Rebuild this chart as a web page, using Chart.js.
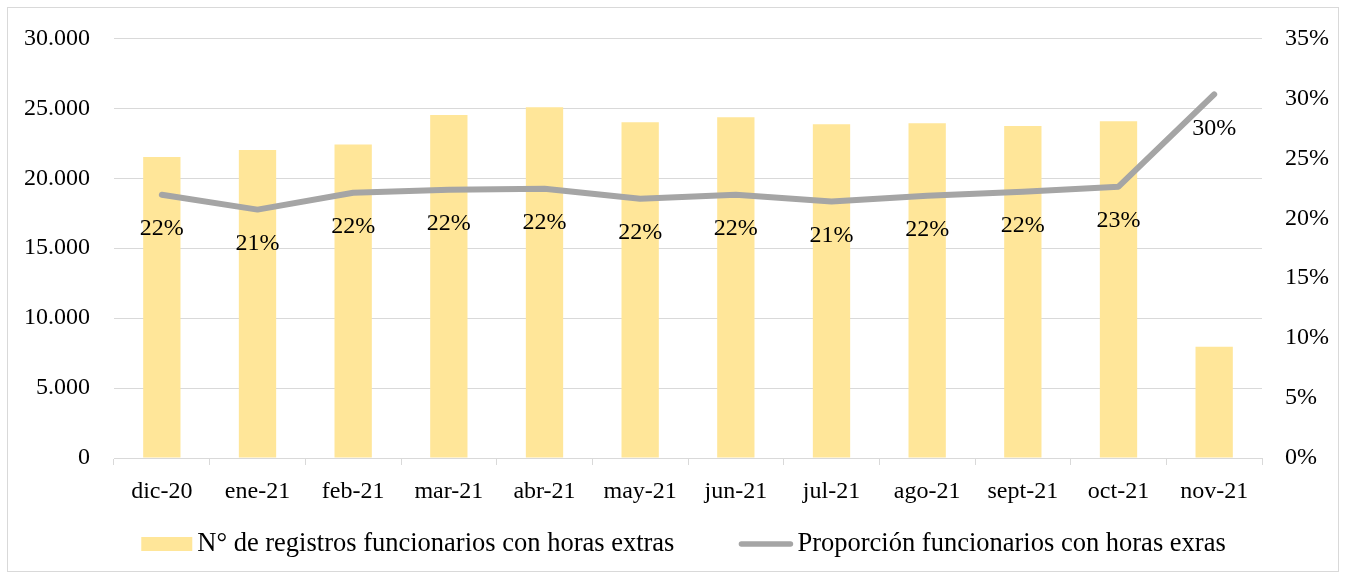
<!DOCTYPE html>
<html lang="es">
<head>
<meta charset="utf-8">
<title>Funcionarios con horas extras</title>
<script src="https://cdn.jsdelivr.net/npm/chart.js@4/dist/chart.umd.min.js"></script>
<style>
    html, body { margin: 0; padding: 0; background: #fff; }
    #contenedor { width: 1346px; height: 577px; }
</style>
</head>
<body>
<div id="contenedor"><canvas id="graficoHorasExtras" width="1346" height="577"></canvas></div>
<script>
// Datos
const meses = ['dic-20', 'ene-21', 'feb-21', 'mar-21', 'abr-21', 'may-21', 'jun-21', 'jul-21', 'ago-21', 'sept-21', 'oct-21', 'nov-21'];
const registros = [21520, 22020, 22420, 24520, 25070, 24010, 24360, 23860, 23940, 23740, 24080, 7960];
const proporcion = [21.96, 20.72, 22.13, 22.38, 22.46, 21.63, 21.96, 21.4, 21.88, 22.21, 22.63, 30.33];

const etiquetaBarras = 'N° de registros funcionarios con horas extras';
const etiquetaLinea = 'Proporción funcionarios con horas exras';

const colorBarras = '#FFE699';
const colorLinea = '#A5A5A5';
const colorGrilla = '#D9D9D9';
const fuente = '"Liberation Serif", "Times New Roman", serif';

// Formato de miles con punto (30.000)
function miles(v) {
    return String(v).replace(/\B(?=(\d{3})+(?!\d))/g, '.');
}

// Fondo blanco y marco gris alrededor del gráfico
const marco = {
    id: 'marco',
    beforeDraw(chart) {
        const ctx = chart.ctx;
        ctx.save();
        ctx.fillStyle = '#fff';
        ctx.fillRect(0, 0, chart.width, chart.height);
        ctx.strokeStyle = colorGrilla;
        ctx.lineWidth = 1;
        ctx.strokeRect(7.5, 7.5, 1331, 564);
        ctx.restore();
    }
};

// Etiquetas de porcentaje bajo cada punto de la línea
const etiquetasLinea = {
    id: 'etiquetasLinea',
    afterDatasetsDraw(chart) {
        const ctx = chart.ctx;
        const meta = chart.getDatasetMeta(0);
        ctx.save();
        ctx.font = '24px ' + fuente;
        ctx.fillStyle = '#000';
        ctx.textAlign = 'center';
        ctx.textBaseline = 'middle';
        meta.data.forEach((punto, i) => {
            ctx.fillText(Math.round(proporcion[i]) + '%', punto.x, punto.y + 34);
        });
        ctx.restore();
    }
};

// Leyenda dibujada a mano para imitar el espaciado de Excel
const leyenda = {
    id: 'leyenda',
    afterDraw(chart) {
        const ctx = chart.ctx;
        ctx.save();
        ctx.font = '26.5px ' + fuente;
        const w1 = ctx.measureText(etiquetaBarras).width;
        const w2 = ctx.measureText(etiquetaLinea).width;
        const total = 51 + 5 + w1 + 64 + 55 + 4 + w2;
        let x = 683.5 - total / 2;
        const yTexto = 551;

        ctx.fillStyle = colorBarras;
        ctx.fillRect(x, 537, 51, 14);
        x += 56;
        ctx.fillStyle = '#000';
        ctx.textBaseline = 'alphabetic';
        ctx.fillText(etiquetaBarras, x, yTexto);
        x += w1 + 64;

        ctx.strokeStyle = colorLinea;
        ctx.lineWidth = 5.5;
        ctx.lineCap = 'round';
        ctx.beginPath();
        ctx.moveTo(x + 3, 544);
        ctx.lineTo(x + 52, 544);
        ctx.stroke();
        x += 59;
        ctx.fillText(etiquetaLinea, x, yTexto);
        ctx.restore();
    }
};

Chart.defaults.font.family = fuente;
Chart.defaults.font.size = 24;
Chart.defaults.color = '#000';

const ctx = document.getElementById('graficoHorasExtras').getContext('2d');

new Chart(ctx, {
    type: 'bar',
    data: {
        labels: meses,
        datasets: [
            {
                type: 'line',
                label: etiquetaLinea,
                data: proporcion,
                yAxisID: 'y1',
                borderColor: colorLinea,
                backgroundColor: colorLinea,
                borderWidth: 6,
                borderJoinStyle: 'round',
                borderCapStyle: 'round',
                pointRadius: 0,
                pointHoverRadius: 0,
                tension: 0,
                order: 0
            },
            {
                type: 'bar',
                label: etiquetaBarras,
                data: registros,
                yAxisID: 'y',
                backgroundColor: colorBarras,
                borderWidth: 0,
                barPercentage: 0.39,
                categoryPercentage: 1,
                order: 1
            }
        ]
    },
    options: {
        responsive: false,
        animation: false,
        layout: {
            padding: { left: 8, right: 8, top: 34, bottom: 71 }
        },
        plugins: {
            legend: { display: false },
            tooltip: { enabled: false }
        },
        scales: {
            x: {
                offset: true,
                grid: {
                    offset: true,
                    drawOnChartArea: false,
                    drawTicks: true,
                    tickLength: 7,
                    color: colorGrilla
                },
                border: { color: colorGrilla, width: 1 },
                ticks: { padding: 12, maxRotation: 0, autoSkip: false },
                afterFit: s => { s.height = 48; }
            },
            y: {
                position: 'left',
                min: 0,
                max: 30000,
                ticks: {
                    stepSize: 5000,
                    padding: 24,
                    callback: v => miles(v)
                },
                grid: { color: colorGrilla, drawTicks: false },
                border: { display: false },
                afterFit: s => { s.width = 106; }
            },
            y1: {
                position: 'right',
                min: 0,
                max: 35,
                ticks: {
                    stepSize: 5,
                    padding: 23,
                    callback: v => v + '%'
                },
                grid: { display: false, drawTicks: false },
                border: { display: false },
                afterFit: s => { s.width = 76; }
            }
        }
    },
    plugins: [marco, etiquetasLinea, leyenda]
});
</script>
</body>
</html>
